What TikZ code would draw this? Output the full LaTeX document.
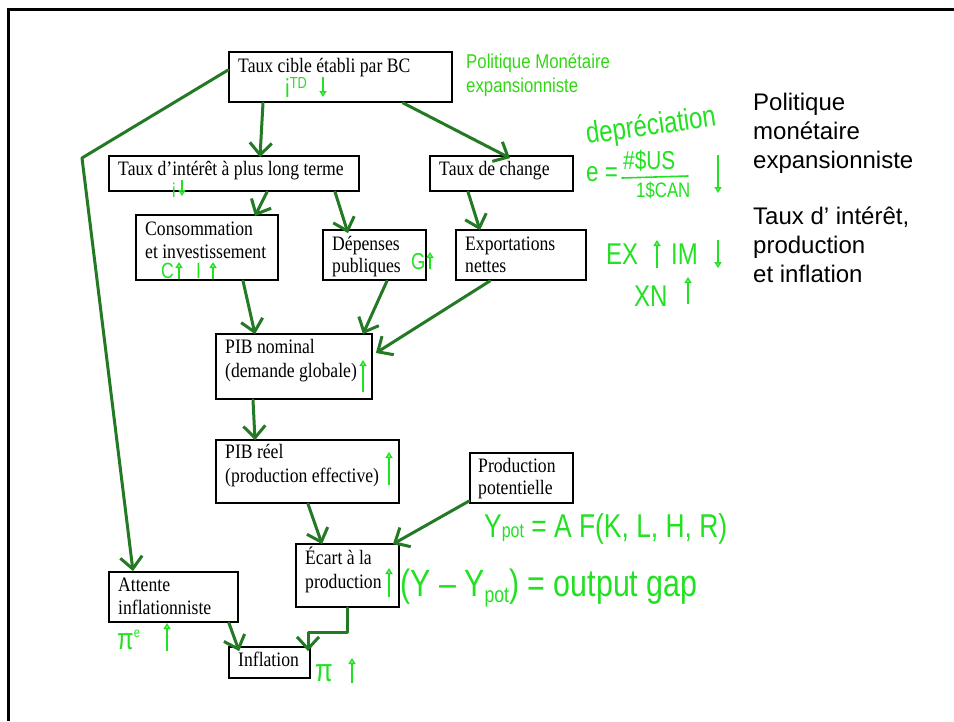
\documentclass[tikz,border=0pt]{standalone}
\usepackage{fontspec}
\setmainfont{Liberation Serif}
\newfontfamily\boxfont{Liberation Serif}[FakeStretch=0.86]
\newfontfamily\pgreenfont{Liberation Sans}[FakeStretch=0.84]
\newfontfamily\sidefont{Liberation Sans}
\newfontfamily\handfont{Liberation Sans}[FakeStretch=0.8]
\usetikzlibrary{arrows.meta,calc}
\definecolor{arrgreen}{RGB}{36,122,36}
\definecolor{handgreen}{RGB}{34,225,34}
\definecolor{titlegreen}{RGB}{50,215,20}
\tikzset{
  box/.style={draw=black, line width=1.8pt, fill=white, inner sep=0pt},
  btxt/.style={anchor=base west, inner sep=0pt, font=\boxfont\fontsize{20.5}{24}\selectfont},
  ptxt/.style={anchor=base west, inner sep=0pt, text=titlegreen, font=\pgreenfont\fontsize{20}{24}\selectfont},
  stxt/.style={anchor=base west, inner sep=0pt, font=\sidefont\fontsize{24}{29}\selectfont},
  htxt/.style={anchor=base west, inner sep=0pt, text=handgreen, font=\handfont\fontsize{#1}{#1}\selectfont},
  htxt/.default=20,
  arr/.style={draw=arrgreen, line width=3pt, line cap=round, line join=round, -{Straight Barb[length=12pt,width=22pt]}},
  harr/.style={draw=handgreen, line width=1.6pt, -{Triangle[open,length=6pt,width=7pt]}},
  hline/.style={draw=handgreen, line width=1.6pt, line cap=round}
}
\begin{document}
\begin{tikzpicture}[x=1pt,y=-1pt]
\fill[white] (0,0) rectangle (954,721);
\useasboundingbox (0,0) rectangle (954,721);
\draw[line width=3pt, black] (954,9) -- (8,9) -- (8,721);

% boxes
\node[box, minimum width=223pt, minimum height=50pt] (b1) at (340.5,77) {};
\node[box, minimum width=250pt, minimum height=35pt] (b2) at (234,173.5) {};
\node[box, minimum width=143pt, minimum height=35pt] (b3) at (501.5,173.5) {};
\node[box, minimum width=142pt, minimum height=65pt] (b4) at (207,247.5) {};
\node[box, minimum width=103pt, minimum height=50pt] (b5) at (374.5,255) {};
\node[box, minimum width=130pt, minimum height=50pt] (b6) at (521,255) {};
\node[box, minimum width=156pt, minimum height=65pt] (b7) at (294,366.5) {};
\node[box, minimum width=183pt, minimum height=63pt] (b8) at (307.5,471.5) {};
\node[box, minimum width=103pt, minimum height=50pt] (b9) at (521.5,478) {};
\node[box, minimum width=103pt, minimum height=63pt] (b10) at (347.5,575.5) {};
\node[box, minimum width=129pt, minimum height=50pt] (b11) at (173.5,597) {};
\node[box, minimum width=81pt, minimum height=31pt] (b12) at (269.5,662.5) {};

% box texts
\node[btxt] (t1) at (238,72) {Taux cible établi par BC};
\node[btxt] (t2) at (118,175) {Taux d’intérêt à plus long terme};
\node[btxt] (t3) at (439,175) {Taux de change};
\node[btxt] (t4a) at (145,235) {Consommation};
\node[btxt] (t4b) at (145,258) {et investissement};
\node[btxt] (t5a) at (332,250) {Dépenses};
\node[btxt] (t5b) at (332,272) {publiques};
\node[btxt] (t6a) at (465,250) {Exportations};
\node[btxt] (t6b) at (465,272) {nettes};
\node[btxt] (t7a) at (225,353) {PIB nominal};
\node[btxt] (t7b) at (225,377) {(demande globale)};
\node[btxt] (t8a) at (225,458) {PIB réel};
\node[btxt] (t8b) at (225,482) {(production effective)};
\node[btxt] (t9a) at (478,472) {Production};
\node[btxt] (t9b) at (478,494) {potentielle};
\node[btxt] (t10a) at (305,564) {Écart à la};
\node[btxt] (t10b) at (305,588) {production};
\node[btxt] (t11a) at (118,591) {Attente};
\node[btxt] (t11b) at (118,614) {inflationniste};
\node[btxt] (t12) at (238,666) {Inflation};

% green title
\node[ptxt] (pm1) at (466,68) {Politique Monétaire};
\node[ptxt] (pm2) at (466,92) {expansionniste};

% side text
\node[stxt] (s1) at (753,110) {Politique};
\node[stxt] (s2) at (753,139) {monétaire};
\node[stxt] (s3) at (753,168) {expansionniste};
\node[stxt] (s4) at (753,224) {Taux d’ intérêt,};
\node[stxt] (s5) at (753,253) {production};
\node[stxt] (s6) at (753,282) {et inflation};

% connectors
\coordinate (bend) at (82,158);
\draw[arr] ($(b1.west)+(0,-7)$) -- (bend) -- ($(b11.north)+(-40.5,0)$);
\draw[arr] ($(b1.south)+(-77.5,0)$) -- ($(b2.north)+(26,2)$);
\draw[arr] ($(b1.south)+(62.5,0)$) -- ($(b3.north)+(8.5,3)$);
\draw[arr] ($(b2.south)+(33,0)$) -- ($(b4.north)+(48,2)$);
\draw[arr] ($(b2.south)+(101,0)$) -- ($(b5.north)+(-26.5,4)$);
\draw[arr] ($(b3.south)+(-33.5,0)$) -- ($(b6.north)+(-41,1)$);
\draw[arr] ($(b4.south)+(36,0)$) -- ($(b7.north)+(-39,1)$);
\draw[arr] ($(b5.south)+(12.5,0)$) -- ($(b7.north)+(69,1)$);
\draw[arr] ($(b6.south)+(-31,0)$) -- ($(b7.east)+(3,-13.5)$);
\draw[arr] ($(b7.south)+(-41,0)$) -- ($(b8.north)+(-52.5,1)$);
\draw[arr] ($(b8.south)+(0.5,0)$) -- ($(b10.north)+(-25.5,1)$);
\draw[arr] ($(b9.west)+(0,23)$) -- ($(b10.north east)+(-7,1)$);
\draw[arr] (b10.south) -- ++(0,25) -| ($(b12.north)+(38.5,5)$);
\draw[arr] ($(b11.south east)+(-10,0)$) -- ($(b12.north west)+(11,5)$);

% handwritten annotations
\node[htxt=26] (h1) at (285,97) {i\raisebox{9pt}{\fontsize{16}{16}\selectfont TD}};
\draw[harr] (323,77) -- (323,97);
\node[htxt=20] (h2) at (172,197) {i};
\draw[harr] (182,180) -- (182,196);
\node[htxt=22] (h3) at (161,278) {C};
\draw[harr] (179,279) -- (179,262);
\node[htxt=22] (h4) at (196,278) {I};
\draw[harr] (213,279) -- (213,262);
\node[htxt=23] (h5) at (411,269) {G};
\draw[harr] (430,269) -- (430,252);
\draw[harr] (363,392) -- (363,360);
\draw[harr] (389,485) -- (389,452);
\draw[harr] (389,597) -- (389,568);
\node[htxt=38] (h6) at (400,596) {(Y – Y\raisebox{-6pt}{\fontsize{22}{22}\selectfont pot}) = output gap};
\node[htxt=33] (h7) at (484,537) {Y{\fontsize{20}{20}\selectfont pot} = A F(K, L, H, R)};
\node[htxt=30] (h8) at (117,649) {π\raisebox{12pt}{\fontsize{14}{14}\selectfont e}};
\draw[harr] (167,651) -- (167,623);
\node[htxt=32] (h9) at (315,681) {π};
\draw[harr] (352,683) -- (352,658);
\node[htxt=30, anchor=center, rotate=8] (h10) at (651,127) {depréciation};
\node[htxt=28] (h11) at (586,181) {e =};
\node[htxt=26] (h12) at (623,169) {\#\$US};
\draw[hline] (622,178) -- (688,176);
\node[htxt=21] (h13) at (636,197) {1\$CAN};
\draw[harr] (718,155) -- (718,193);
\node[htxt=30] (h14) at (606,264) {EX};
\draw[harr] (657,268) -- (657,240);
\node[htxt=30] (h15) at (671,264) {IM};
\draw[harr] (718,240) -- (718,268);
\node[htxt=30] (h16) at (634,306) {XN};
\draw[harr] (688,304) -- (688,277);
\end{tikzpicture}
\end{document}
